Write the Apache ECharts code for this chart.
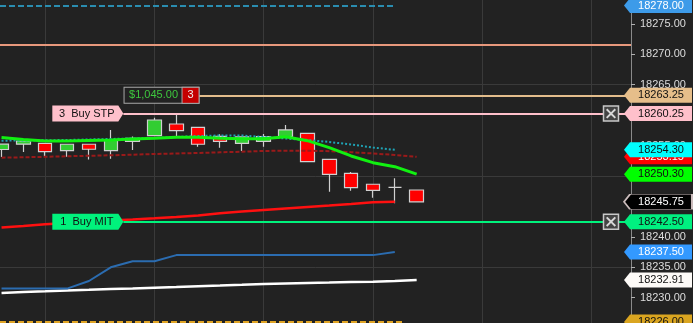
<!DOCTYPE html>
<html>
<head>
<meta charset="utf-8">
<script src="https://cdn.jsdelivr.net/npm/echarts@6.0.0/dist/echarts.min.js"></script>
<style>
html,body{margin:0;padding:0;background:#222222;overflow:hidden;}
#chart{width:693px;height:323px;}
</style>
</head>
<body>
<div id="chart"></div>
<script>
// ---------------- data ----------------
const opens  = [18254.35, 18255.22, 18255.37, 18254.16, 18255.21, 18254.16, 18255.67, 18256.62, 18258.54, 18258.00, 18256.52, 18255.37, 18255.70, 18256.46, 18257.01, 18252.74, 18250.44, 18248.64, 18248.14, 18247.70];
const highs  = [18255.22, 18255.83, 18255.37, 18255.21, 18255.21, 18257.56, 18256.49, 18259.58, 18260.30, 18258.00, 18256.85, 18256.41, 18256.90, 18258.38, 18257.01, 18252.74, 18250.66, 18248.64, 18249.62, 18247.70];
const lows   = [18253.12, 18253.94, 18253.30, 18253.17, 18252.71, 18252.84, 18254.27, 18256.62, 18256.57, 18254.81, 18254.65, 18254.11, 18254.81, 18256.46, 18252.35, 18247.42, 18247.59, 18246.44, 18245.51, 18245.75];
const closes = [18255.22, 18255.75, 18253.99, 18255.21, 18254.39, 18255.91, 18256.19, 18259.20, 18257.44, 18255.21, 18255.70, 18256.41, 18256.49, 18257.56, 18252.35, 18250.28, 18248.08, 18247.65, 18248.14, 18245.75];

const maGreen  = [18256.32, 18256.00, 18255.75, 18255.75, 18255.83, 18255.91, 18256.08, 18256.19, 18256.36, 18256.36, 18256.19, 18256.13, 18256.13, 18256.46, 18255.80, 18254.65, 18253.29, 18252.19, 18251.53, 18250.30];
const maCyan   = [18255.80, 18255.83, 18255.87, 18255.91, 18256.00, 18256.08, 18256.16, 18256.24, 18256.41, 18256.57, 18256.65, 18256.65, 18256.41, 18256.16, 18255.91, 18255.59, 18255.17, 18254.68, 18254.30];
const maDarkRed = [18253.01, 18253.07, 18253.15, 18253.24, 18253.32, 18253.40, 18253.50, 18253.61, 18253.70, 18253.78, 18253.89, 18253.99, 18254.11, 18254.16, 18254.16, 18254.07, 18253.91, 18253.70, 18253.45, 18253.15];
const lineRed  = [18241.54, 18241.79, 18242.07, 18242.28, 18242.44, 18242.69, 18242.85, 18243.05, 18243.26, 18243.51, 18243.87, 18244.16, 18244.41, 18244.66, 18244.91, 18245.15, 18245.40, 18245.68, 18245.75];
const lineBlue = [18231.50, 18231.50, 18231.50, 18231.50, 18232.75, 18235.00, 18236.00, 18236.00, 18237.00, 18237.00, 18237.00, 18237.00, 18237.00, 18237.00, 18237.00, 18237.00, 18237.00, 18237.00, 18237.50];
const lineWhite = [18230.78, 18230.94, 18231.06, 18231.19, 18231.30, 18231.43, 18231.52, 18231.65, 18231.76, 18231.90, 18232.01, 18232.13, 18232.26, 18232.34, 18232.42, 18232.50, 18232.59, 18232.64, 18232.75, 18232.91];

const tickLabels = [18230, 18235, 18240, 18245, 18250, 18255, 18260, 18265, 18270, 18275];
const gridLevels = [18235, 18250, 18265];
const gridBars   = [2, 7, 12, 17, 22, 27];

const levelPrices = [18278.00, 18271.50, 18226.00];
const levelEnds   = [18.05, null, 18.45];          // bar index where a level line stops (null = to edge)
const orderPrices = [18260.25, 18242.50];
const orderTexts  = ['3  Buy STP', '1  Buy MIT'];
const orderStart  = 5.575;                          // bar index where order lines begin
const positionPrice = 18263.25;
const positionPnl   = '$1,045.00';
const positionQty   = '3';
const positionStart = 9.04;                         // bar index where position line begins
const tagValues = [18278.00, 18263.25, 18260.25, 18254.30, 18253.15, 18250.30, 18245.75, 18242.50, 18237.50, 18232.91, 18226.00];

// ---------------- styles ----------------
const FONT = 'Liberation Sans, Arial, sans-serif';
const GRID_COLOR = '#3a3a3a';
const levelColors = ['#2a8db0', '#e8987c', '#e0a424'];
const levelTypes  = [[6, 3], 'solid', [6, 3]];
const orderColors = ['#ffc0cb', '#00f27c'];
const positionColor = '#e3bd8c';
const tagBg = ['#3d9be9', '#e6be8a', '#ffc0cb', '#00ffff', '#ff0000', '#00ff00', '#000000', '#00f080', '#3399ff', '#fdfaf7', '#daa520'];
const tagFg = ['#ffffff', '#111111', '#111111', '#111111', '#ffffff', '#111111', '#ffffff', '#111111', '#ffffff', '#111111', '#111111'];
const tagBorder = [null, null, null, null, null, null, '#cbbcbc', null, null, null, null];
const tagBehind = [4];   // tags drawn underneath the others

const X_MIN = -0.07, X_MAX = 28.81;
const Y_MIN = 18225.85, Y_MAX = 18278.91;
const X_EDGE = X_MAX - 1e-6;

const TAG_PATH = 'path://M0,7.5L6,0L68,0L68,15L6,15Z';
const ORDER_PATH = 'path://M0,0L66,0L71,8L66,16L0,16Z';
const X_PATH = 'path://M2,0L7.5,5.5L13,0L15,2L9.5,7.5L15,13L13,15L7.5,9.5L2,15L0,13L5.5,7.5L0,2Z';

const xy = arr => arr.map((v, i) => [i, v]);
const candleData = opens.map((o, i) => [i, o, closes[i], lows[i], highs[i]]);

function lineSeries(data, color, width, type) {
  return {
    type: 'line', data: xy(data), showSymbol: false, symbol: 'none', silent: true,
    animation: false, z: 3,
    lineStyle: { color: color, width: width, type: type || 'solid' },
    emphasis: { disabled: true }
  };
}

function tagItem(i) {
  return {
    coord: [X_EDGE, tagValues[i]], value: tagValues[i],
    symbol: TAG_PATH, symbolSize: [68, 15], symbolOffset: [27, 0],
    itemStyle: { color: tagBg[i], borderColor: tagBorder[i] || tagBg[i], borderWidth: tagBorder[i] ? 1 : 0 },
    label: { show: true, position: 'inside', offset: [3, 0], formatter: tagValues[i].toFixed(2),
             color: tagFg[i], fontSize: 11, fontFamily: FONT }
  };
}

const gridLines = gridLevels.map(v => [{ coord: [X_MIN, v] }, { coord: [X_MAX, v] }])
  .concat(gridBars.map(b => [{ coord: [b, Y_MIN] }, { coord: [b, Y_MAX] }]));

const levelLines = levelPrices.map((p, i) => [
  { coord: [X_MIN, p], lineStyle: { color: levelColors[i], width: 2, type: levelTypes[i] } },
  { coord: [levelEnds[i] == null ? X_MAX : levelEnds[i], p] }
]);
const orderLines = orderPrices.map((p, i) => [
  { coord: [orderStart, p], lineStyle: { color: orderColors[i], width: 2, type: 'solid' } },
  { coord: [X_MAX, p] }
]);
const positionLine = [[
  { coord: [positionStart, positionPrice], lineStyle: { color: positionColor, width: 2, type: 'solid' } },
  { coord: [X_MAX, positionPrice] }
]];

const annotationPoints = [];
orderPrices.forEach((p, i) => {
  annotationPoints.push({
    coord: [orderStart, p], symbol: ORDER_PATH, symbolSize: [71, 16], symbolOffset: [-35.5, 0],
    itemStyle: { color: orderColors[i], borderWidth: 0 },
    label: { show: true, position: 'inside', offset: [-1, 0], formatter: orderTexts[i],
             color: '#111', fontSize: 11, fontFamily: FONT }
  });
  annotationPoints.push({
    coord: [X_EDGE, p], symbol: 'rect', symbolSize: [15, 15], symbolOffset: [-20, 0],
    itemStyle: { color: '#444444', borderColor: '#c8c8c8', borderWidth: 1.5 },
    label: { show: false }
  });
  annotationPoints.push({
    coord: [X_EDGE, p], symbol: X_PATH, symbolSize: [10, 10], symbolOffset: [-20, 0],
    itemStyle: { color: '#d8d8d8', borderWidth: 0 },
    label: { show: false }
  });
});
annotationPoints.push({
  coord: [positionStart, positionPrice], symbol: 'rect', symbolSize: [1, 1],
  itemStyle: { color: 'rgba(0,0,0,0)', borderWidth: 0 },
  label: {
    show: true, position: 'left', distance: 0,
    formatter: '{a|' + positionPnl + '}{b|' + positionQty + '}',
    backgroundColor: '#222222', borderColor: '#a8a8a8', borderWidth: 1, padding: 0,
    rich: {
      a: { color: '#3ec83e', fontSize: 11, fontFamily: FONT, width: 58, height: 15, lineHeight: 15, align: 'center' },
      b: { color: '#eeeeee', fontSize: 11, fontFamily: FONT, width: 16, height: 15, lineHeight: 15, align: 'center',
           backgroundColor: '#c40000', borderColor: '#a8a8a8', borderWidth: 1 }
    }
  }
});

const option = {
  backgroundColor: '#222222',
  animation: false,
  grid: { left: 0, right: 62, top: 0, bottom: 0, containLabel: false },
  xAxis: {
    type: 'value', min: X_MIN, max: X_MAX,
    axisLine: { show: false, onZero: false }, axisTick: { show: false }, axisLabel: { show: false },
    splitLine: { show: false }
  },
  yAxis: {
    type: 'value', position: 'right', min: Y_MIN, max: Y_MAX,
    axisLine: { show: true, onZero: false, lineStyle: { color: '#8a8a8a', width: 1 } },
    axisTick: { show: true, length: 4, lineStyle: { color: '#b0b0b0' }, customValues: tickLabels },
    axisLabel: { show: true, customValues: tickLabels, margin: 9, color: '#dddddd', fontSize: 11, fontFamily: FONT,
                 formatter: v => v.toFixed(2) },
    splitLine: { show: false }
  },
  series: [
    {
      type: 'line', data: [], silent: true,
      markLine: { silent: true, animation: false, symbol: ['none', 'none'], label: { show: false },
                  emphasis: { disabled: true }, z: 1,
                  lineStyle: { color: GRID_COLOR, width: 1, type: 'solid' },
                  data: gridLines }
    },
    {
      type: 'candlestick', data: candleData, barWidth: 14, silent: true, z: 2,
      itemStyle: { color: '#32cd32', color0: '#ff0000', borderColor: '#d0d0d0', borderColor0: '#d0d0d0',
                   borderColorDoji: '#d0d0d0', borderWidth: 1.2 },
      emphasis: { disabled: true }
    },
    lineSeries(lineWhite, '#ffffff', 2.5),
    lineSeries(lineBlue, '#2b6cb0', 2),
    lineSeries(lineRed, '#ff1010', 2.5),
    lineSeries(maDarkRed, '#9a1a1a', 2, [4, 2]),
    lineSeries(maCyan, '#1fa3b5', 2, [2, 2]),
    lineSeries(maGreen, '#11f011', 3),
    {
      type: 'line', data: [], silent: true,
      markLine: { silent: true, animation: false, symbol: ['none', 'none'], label: { show: false },
                  emphasis: { disabled: true }, z: 5,
                  data: levelLines.concat(orderLines, positionLine) }
    },
    {
      type: 'line', data: [], silent: true,
      markPoint: { silent: true, animation: false, z: 4,
                   data: tagBehind.map(tagItem) }
    },
    {
      type: 'line', data: [], silent: true,
      markPoint: { silent: true, animation: false, z: 6,
                   data: tagValues.map((v, i) => i).filter(i => tagBehind.indexOf(i) < 0).map(tagItem).concat(annotationPoints) }
    }
  ]
};

const chart = echarts.init(document.getElementById('chart'), null, { renderer: 'canvas' });
chart.setOption(option);
</script>
</body>
</html>
